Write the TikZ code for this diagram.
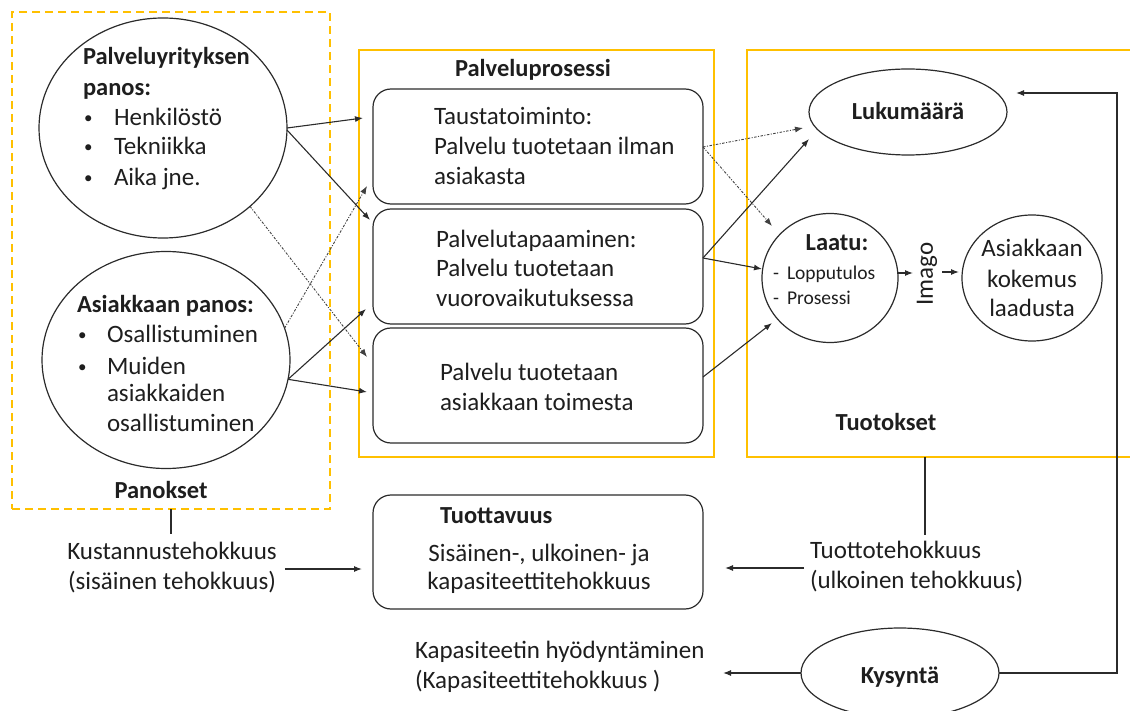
\documentclass[tikz,border=0pt]{standalone}
\usepackage{fontspec}
\setmainfont{Carlito}
\usetikzlibrary{arrows.meta,shapes.geometric,calc}
\definecolor{gold}{HTML}{FFC000}
\definecolor{ink}{HTML}{2B2B2B}
\definecolor{txtc}{HTML}{1E1E1E}
\begin{document}
\begin{tikzpicture}[x=1pt,y=-1pt,
  every node/.style={inner sep=0pt,outer sep=0pt,text=txtc},
  txt/.style={font=\fontsize{25}{30}\selectfont},
  hd/.style={font=\fontsize{24.5}{30}\selectfont\bfseries},
  dot/.style={font=\fontsize{17}{20}\selectfont},
  small/.style={font=\fontsize{19.5}{23}\selectfont},
  frame/.style={draw=gold,line width=1.4pt},
  card/.style={draw=ink,line width=1.2pt,rounded corners=18pt},
  oval/.style={draw=ink,line width=1.2pt,ellipse},
  link/.style={draw=ink,line width=1.1pt},
  arr/.style={link,-{Latex[length=8pt,width=6pt]}},
  dotarr/.style={arr,draw=ink!90,line width=0.9pt,dash pattern=on 2.5pt off 1.5pt on 1pt off 1.5pt},
]
\useasboundingbox (0,0) rectangle (1130,711);

% ---------- frames ----------
\node[frame,dashed,dash pattern=on 8pt off 5pt,minimum width=318pt,minimum height=497pt] (inputs) at (171,260.5) {};
\node[frame,minimum width=355pt,minimum height=407pt] (proc) at (536.5,253.5) {};
\draw[frame] (1132,50) -- (747,50) -- (747,457) -- (1132,457);
\coordinate (outbot) at (925,457);

% ---------- inputs ----------
\node[oval,minimum width=248pt,minimum height=220pt] (e1) at (163,128) {};
\node[hd,anchor=base west] at (83,65) {Palveluyrityksen};
\node[hd,anchor=base west] at (83,96) {panos:};
\foreach \t/\y in {Henkilöstö/126,Tekniikka/155,Aika jne./186}{
  \node[dot,anchor=base west] at (84,\y-2) {•};
  \node[txt,anchor=base west] at (114,\y) {\t};
}
\node[oval,minimum width=248pt,minimum height=217pt] (e2) at (166,360) {};
\node[hd,anchor=base west] at (77,313) {Asiakkaan panos:};
\node[dot,anchor=base west] at (78,341) {•};
\node[txt,anchor=base west] at (107,343) {Osallistuminen};
\node[dot,anchor=base west] at (78,372) {•};
\node[txt,anchor=base west] at (107,374) {Muiden};
\node[txt,anchor=base west] at (107,401) {asiakkaiden};
\node[txt,anchor=base west] at (107,431) {osallistuminen};
\node[hd,anchor=base] at (161,498) {Panokset};

% ---------- process ----------
\node[hd,anchor=base] at (533,77) {Palveluprosessi};
\node[card,minimum width=330pt,minimum height=115pt] (b1) at (538,146.5) {};
\node[card,minimum width=330pt,minimum height=115pt] (b2) at (538,266.5) {};
\node[card,minimum width=330pt,minimum height=115pt] (b3) at (538,385.5) {};
\node[txt,anchor=base west] at (434,125) {Taustatoiminto:};
\node[txt,anchor=base west] at (434,155) {Palvelu tuotetaan ilman};
\node[txt,anchor=base west] at (434,185) {asiakasta};
\node[txt,anchor=base west] at (436,248) {Palvelutapaaminen:};
\node[txt,anchor=base west] at (436,277) {Palvelu tuotetaan};
\node[txt,anchor=base west] at (436,307) {vuorovaikutuksessa};
\node[txt,anchor=base west] at (440,380) {Palvelu tuotetaan};
\node[txt,anchor=base west] at (440,410) {asiakkaan toimesta};

% ---------- outputs ----------
\node[oval,minimum width=198pt,minimum height=86pt] (lk) at (908,112) {};
\node[hd,anchor=base] at (908,120) {Lukumäärä};
\node[oval,minimum width=136pt,minimum height=129pt] (la) at (830,278) {};
\node[hd,anchor=base] at (837,251) {Laatu:};
\node[small,anchor=base west] at (773,280) {-};
\node[small,anchor=base west] at (787,280) {Lopputulos};
\node[small,anchor=base west] at (773,305) {-};
\node[small,anchor=base west] at (787,305) {Prosessi};
\node[txt,rotate=90] (im) at (927,274) {Imago};
\node[oval,minimum width=140pt,minimum height=126pt] (kk) at (1032,278) {};
\node[txt,anchor=base] at (1032,257) {Asiakkaan};
\node[txt,anchor=base] at (1032,288) {kokemus};
\node[txt,anchor=base] at (1032,317) {laadusta};
\node[hd,anchor=base] at (886,430) {Tuotokset};

% ---------- productivity ----------
\node[card,minimum width=330pt,minimum height=114pt] (tv) at (538,552) {};
\node[hd,anchor=base west] at (440,523) {Tuottavuus};
\node[txt,anchor=base] at (539,561) {Sisäinen-, ulkoinen- ja};
\node[txt,anchor=base] at (539,589) {kapasiteettitehokkuus};
\node[txt,align=center] (kust) at (172,567.5) {Kustannustehokkuus\\(sisäinen tehokkuus)};
\node[txt,align=left,anchor=west] (tuo) at (810,567) {Tuottotehokkuus\\(ulkoinen tehokkuus)};
\node[txt,align=left,anchor=west] (kap) at (415,667) {Kapasiteetin hyödyntäminen\\(Kapasiteettitehokkuus )};
\node[oval,minimum width=198pt,minimum height=90pt] (ky) at (900,673) {};
\node[hd,anchor=base] at (900,683) {Kysyntä};

% ---------- connectors: inputs to process ----------
\draw[arr] (e1.east) -- ($(b1.west)+(-10,-28.5)$);
\draw[arr] ($(e1.east)+(0,2)$) -- ($(b2.west)+(-3,-46.5)$);
\draw[dotarr] (e1.-42) -- ($(b3.west)+(-6,-28.5)$);
\draw[dotarr] (e2.15) -- ($(b1.west)+(-6,39.5)$);
\draw[arr] (e2.-9) -- ($(b2.west)+(-7,42.5)$);
\draw[arr] (e2.-9) -- ($(b3.west)+(-6,6.5)$);

% ---------- connectors: process to outputs ----------
\draw[dotarr] ($(b1.east)+(0,0.5)$) -- ($(lk.west)+(-6,16)$);
\draw[dotarr] ($(b1.east)+(0,0.5)$) -- ($(la.center)+(-58,-52)$);
\draw[arr] ($(b2.east)+(0,-8.5)$) -- ($(lk.center)+(-99,27)$);
\draw[arr] ($(b2.east)+(0,-8.5)$) -- ($(la.west)+(0,-9)$);
\draw[arr] ($(b3.east)+(0,-8.5)$) -- ($(la.center)+(-58,45)$);
\draw[arr] ($(la.east)+(0,-5)$) -- ($(im.center)+(-14,-1)$);
\draw[arr] ($(im.center)+(15,-2)$) -- ($(kk.west)+(-3,-6)$);

% ---------- connectors: efficiency ----------
\coordinate (kustTop) at (171,534);
\draw[link] (inputs.south) -- (kustTop);
\draw[arr] ($(kust.east)+(8,1.5)$) -- ($(tv.west)+(-11,17)$);
\coordinate (tuoTop) at (925,535);
\draw[link] (outbot) -- (tuoTop);
\draw[arr] ($(tuo.west)+(-6,1)$) -- ($(tv.east)+(22,16)$);
\draw[arr] (ky.west) -- ++(-78,0);
\draw[arr] (ky.east) -- ++(118,0) |- ($(lk.east)+(9,-19)$);
\end{tikzpicture}
\end{document}
